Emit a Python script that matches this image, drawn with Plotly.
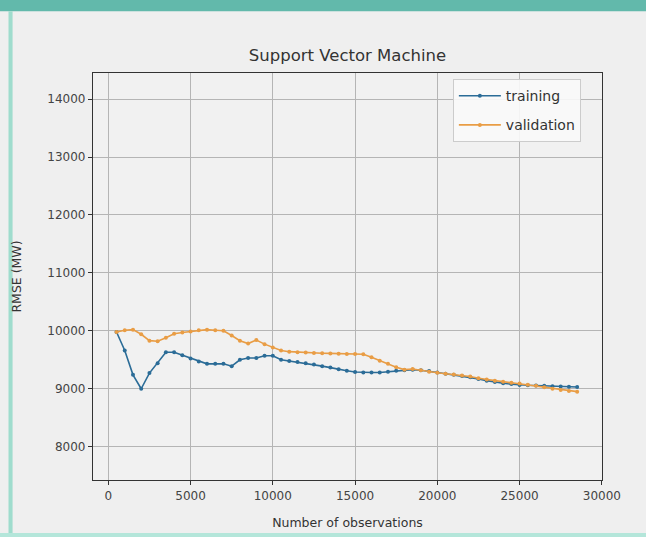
import plotly.graph_objects as go

observations = [500, 1000, 1500, 2000, 2500, 3000, 3500, 4000, 4500, 5000,
                5500, 6000, 6500, 7000, 7500, 8000, 8500, 9000, 9500, 10000,
                10500, 11000, 11500, 12000, 12500, 13000, 13500, 14000, 14500, 15000,
                15500, 16000, 16500, 17000, 17500, 18000, 18500, 19000, 19500, 20000,
                20500, 21000, 21500, 22000, 22500, 23000, 23500, 24000, 24500, 25000,
                25500, 26000, 26500, 27000, 27500, 28000, 28500]

training_rmse = [9980, 9660, 9240, 9000, 9270, 9440, 9630, 9630, 9580, 9520,
                 9470, 9430, 9430, 9430, 9390, 9500, 9530, 9530, 9570, 9570,
                 9500, 9480, 9460, 9440, 9420, 9390, 9365, 9335, 9310, 9290,
                 9280, 9280, 9280, 9295, 9310, 9320, 9330, 9320, 9305, 9280,
                 9260, 9240, 9220, 9200, 9170, 9140, 9115, 9095, 9080, 9065,
                 9060, 9055, 9050, 9045, 9040, 9035, 9030]

validation_rmse = [9980, 10010, 10020, 9940, 9830, 9820, 9880, 9950, 9970, 9990,
                   10010, 10020, 10010, 10000, 9920, 9830, 9780, 9840, 9770, 9710,
                   9660, 9640, 9630, 9625, 9615, 9612, 9610, 9605, 9600, 9600,
                   9595, 9545, 9485, 9430, 9370, 9330, 9340, 9320, 9295, 9275,
                   9260, 9245, 9230, 9210, 9180, 9160, 9140, 9120, 9105, 9090,
                   9070, 9050, 9025, 9000, 8980, 8960, 8950]

x_ticks = [0, 5000, 10000, 15000, 20000, 25000, 30000]
x_tick_labels = ["0", "5000", "10000", "15000", "20000", "25000", "30000"]
y_ticks = [8000, 9000, 10000, 11000, 12000, 13000, 14000]
y_tick_labels = ["8000", "9000", "10000", "11000", "12000", "13000", "14000"]

BLUE = "#2b6c97"
ORANGE = "#e99d45"
FONT = "DejaVu Sans"

fig = go.Figure()
fig.add_trace(go.Scatter(x=observations, y=training_rmse, name="training",
                         legendgroup="training",
                         mode="lines+markers",
                         line=dict(color=BLUE, width=1.6),
                         marker=dict(color=BLUE, size=4)))
fig.add_trace(go.Scatter(x=observations, y=validation_rmse, name="validation",
                         legendgroup="validation",
                         mode="lines+markers",
                         line=dict(color=ORANGE, width=1.6),
                         marker=dict(color=ORANGE, size=4)))

axis_common = dict(showgrid=True, gridcolor="#b5b5b5", gridwidth=1,
                   showline=True, linecolor="#333333", linewidth=1.2, mirror=True,
                   ticks="outside", ticklen=4, tickcolor="#333333",
                   tickfont=dict(family=FONT, size=12, color="#444444"),
                   zeroline=False, automargin=False)

fig.update_xaxes(range=[-930, 30010], tickvals=x_ticks, ticktext=x_tick_labels,
                 title=dict(text="Number of observations",
                            font=dict(family=FONT, size=12.5, color="#333333"),
                            standoff=16),
                 **axis_common)
fig.update_yaxes(range=[7425, 14450], tickvals=y_ticks, ticktext=y_tick_labels,
                 title=dict(text="RMSE (MW)",
                            font=dict(family=FONT, size=12.5, color="#333333"),
                            standoff=22),
                 **axis_common)

fig.update_layout(
    width=646, height=537,
    margin=dict(l=93, r=44, t=73, b=57),
    paper_bgcolor="#efefef",
    plot_bgcolor="#f1f1f1",
    title=dict(text="Support Vector Machine", x=0.5, xref="paper",
               y=0.897, yanchor="middle",
               font=dict(family=FONT, size=16.5, color="#333333")),
    legend=dict(x=0.707, y=0.985, xanchor="left", yanchor="top",
                bgcolor="rgba(250,250,250,0.9)", bordercolor="#cccccc", borderwidth=1,
                font=dict(family=FONT, size=14, color="#333333"),
                traceorder="grouped", tracegroupgap=8, itemwidth=42),
    showlegend=True,
)

# photo frame edges (teal band at the top and edges)
fig.add_shape(type="rect", xref="paper", yref="paper",
              x0=-0.19, x1=1.09, y0=1.152, y1=1.185,
              fillcolor="#62b9ab", line=dict(width=0), layer="below")
fig.add_shape(type="rect", xref="paper", yref="paper",
              x0=-0.166, x1=-0.158, y0=-0.13, y1=1.152,
              fillcolor="#9fdccd", line=dict(width=0), layer="below")
fig.add_shape(type="rect", xref="paper", yref="paper",
              x0=-0.19, x1=1.09, y0=-0.145, y1=-0.13,
              fillcolor="#b4e6da", line=dict(width=0), layer="below")

fig.write_html("out.html",
               config={"displayModeBar": False},
               post_script="document.body.style.margin='0';"
                           "document.body.style.background='#efefef';")
